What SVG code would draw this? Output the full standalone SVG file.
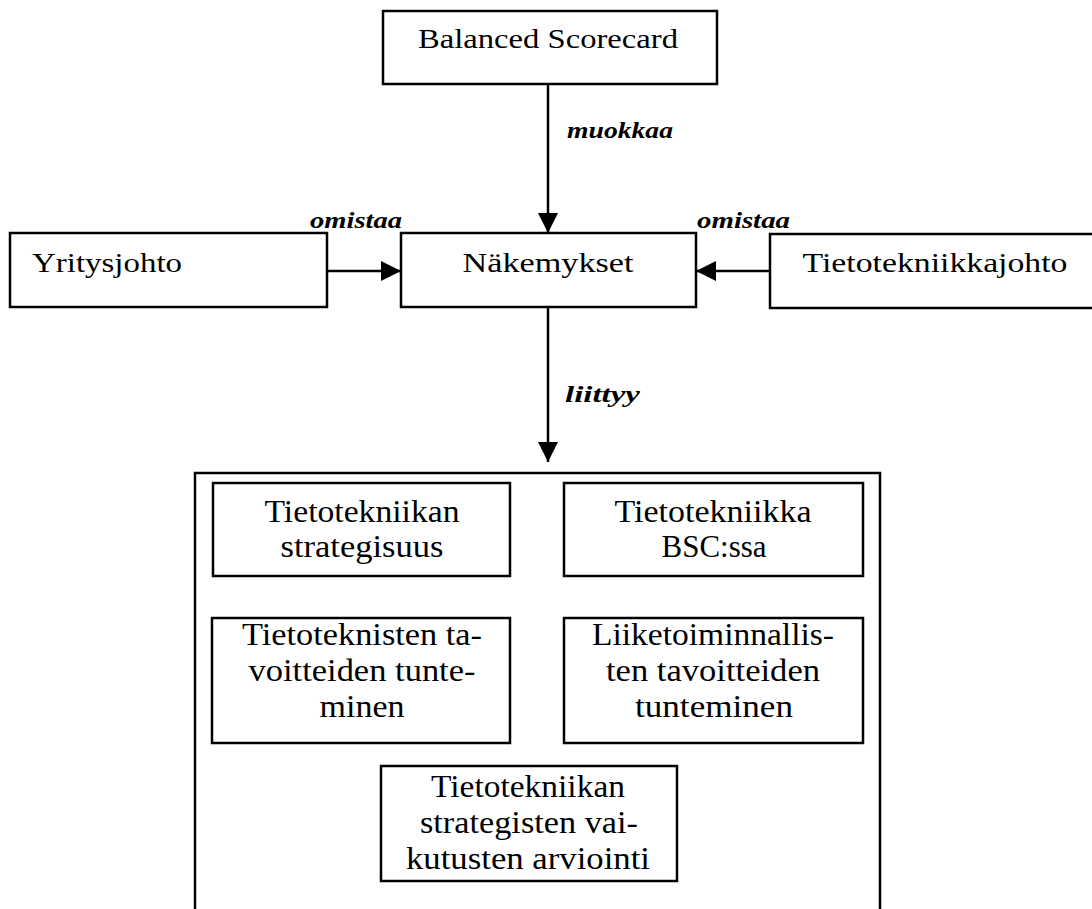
<svg xmlns="http://www.w3.org/2000/svg" width="1092" height="909" viewBox="0 0 1092 909">
<style>
.box{fill:#fff;stroke:#000;stroke-width:2.5}
.t{font-family:"Liberation Serif","Times New Roman",serif;font-size:28px;fill:#000;text-anchor:middle}
.in{font-size:31px}
.lbl{font-family:"Liberation Serif","Times New Roman",serif;font-size:24px;font-style:italic;font-weight:bold;fill:#000}
.c{stroke:#000;stroke-width:2.5;fill:none}
</style>
<defs>
<marker id="ah" markerUnits="userSpaceOnUse" markerWidth="20" markerHeight="20" refX="20" refY="10" orient="auto" viewBox="0 0 20 20">
<path d="M0,0 L20,10 L0,20 z" fill="#000"/>
</marker>
</defs>
<rect width="1092" height="909" fill="#fff"/>
<g id="connectors">
<line class="c" x1="548" y1="84" x2="548" y2="233" marker-end="url(#ah)"/>
<line class="c" x1="327" y1="271" x2="401" y2="271" marker-end="url(#ah)"/>
<line class="c" x1="770" y1="271" x2="696" y2="271" marker-end="url(#ah)"/>
<line class="c" x1="548" y1="307" x2="548" y2="462" marker-end="url(#ah)"/>
<text class="lbl" x="567" y="138" textLength="106" lengthAdjust="spacingAndGlyphs">muokkaa</text>
<text class="lbl" x="310" y="228" textLength="92" lengthAdjust="spacingAndGlyphs">omistaa</text>
<text class="lbl" x="697" y="228" textLength="93" lengthAdjust="spacingAndGlyphs">omistaa</text>
<text class="lbl" x="565" y="402" textLength="75" lengthAdjust="spacingAndGlyphs">liittyy</text>
</g>
<g id="bsc">
<rect class="box" x="383" y="11" width="334" height="73"/>
<text class="t" x="548" y="48" textLength="260" lengthAdjust="spacingAndGlyphs">Balanced Scorecard</text>
</g>
<g id="yritysjohto">
<rect class="box" x="10" y="233" width="317" height="74"/>
<text class="t" x="107" y="272" textLength="150" lengthAdjust="spacingAndGlyphs">Yritysjohto</text>
</g>
<g id="nakemykset">
<rect class="box" x="401" y="233" width="295" height="74"/>
<text class="t" x="548" y="272" textLength="171" lengthAdjust="spacingAndGlyphs">Näkemykset</text>
</g>
<g id="tietotekniikkajohto">
<rect class="box" x="770" y="234" width="330" height="74"/>
<text class="t" x="935" y="272" textLength="265" lengthAdjust="spacingAndGlyphs">Tietotekniikkajohto</text>
</g>
<g id="container">
<rect class="box" x="195" y="473" width="685" height="450"/>
</g>
<g id="strategisuus">
<rect class="box" x="213" y="483" width="297" height="93"/>
<text class="t in" x="362" y="522" textLength="195" lengthAdjust="spacingAndGlyphs">Tietotekniikan</text>
<text class="t in" x="362" y="557" textLength="163" lengthAdjust="spacingAndGlyphs">strategisuus</text>
</g>
<g id="bsc-ssa">
<rect class="box" x="564" y="483" width="299" height="93"/>
<text class="t in" x="713" y="522" textLength="197" lengthAdjust="spacingAndGlyphs">Tietotekniikka</text>
<text class="t in" x="714" y="557" textLength="105" lengthAdjust="spacingAndGlyphs">BSC:ssa</text>
</g>
<g id="tietotekniset-tavoitteet">
<rect class="box" x="212" y="618" width="298" height="125"/>
<text class="t in" x="362" y="645" textLength="240" lengthAdjust="spacingAndGlyphs">Tietoteknisten ta-</text>
<text class="t in" x="362" y="681" textLength="227" lengthAdjust="spacingAndGlyphs">voitteiden tunte-</text>
<text class="t in" x="362" y="717" textLength="85" lengthAdjust="spacingAndGlyphs">minen</text>
</g>
<g id="liiketoiminnalliset-tavoitteet">
<rect class="box" x="564" y="618" width="299" height="125"/>
<text class="t in" x="713" y="645" textLength="242" lengthAdjust="spacingAndGlyphs">Liiketoiminnallis-</text>
<text class="t in" x="713" y="681" textLength="214" lengthAdjust="spacingAndGlyphs">ten tavoitteiden</text>
<text class="t in" x="714" y="717" textLength="158" lengthAdjust="spacingAndGlyphs">tunteminen</text>
</g>
<g id="vaikutusten-arviointi">
<rect class="box" x="381" y="766" width="296" height="115"/>
<text class="t in" x="528" y="797" textLength="194" lengthAdjust="spacingAndGlyphs">Tietotekniikan</text>
<text class="t in" x="529" y="833" textLength="218" lengthAdjust="spacingAndGlyphs">strategisten vai-</text>
<text class="t in" x="528" y="869" textLength="244" lengthAdjust="spacingAndGlyphs">kutusten arviointi</text>
</g>
</svg>
